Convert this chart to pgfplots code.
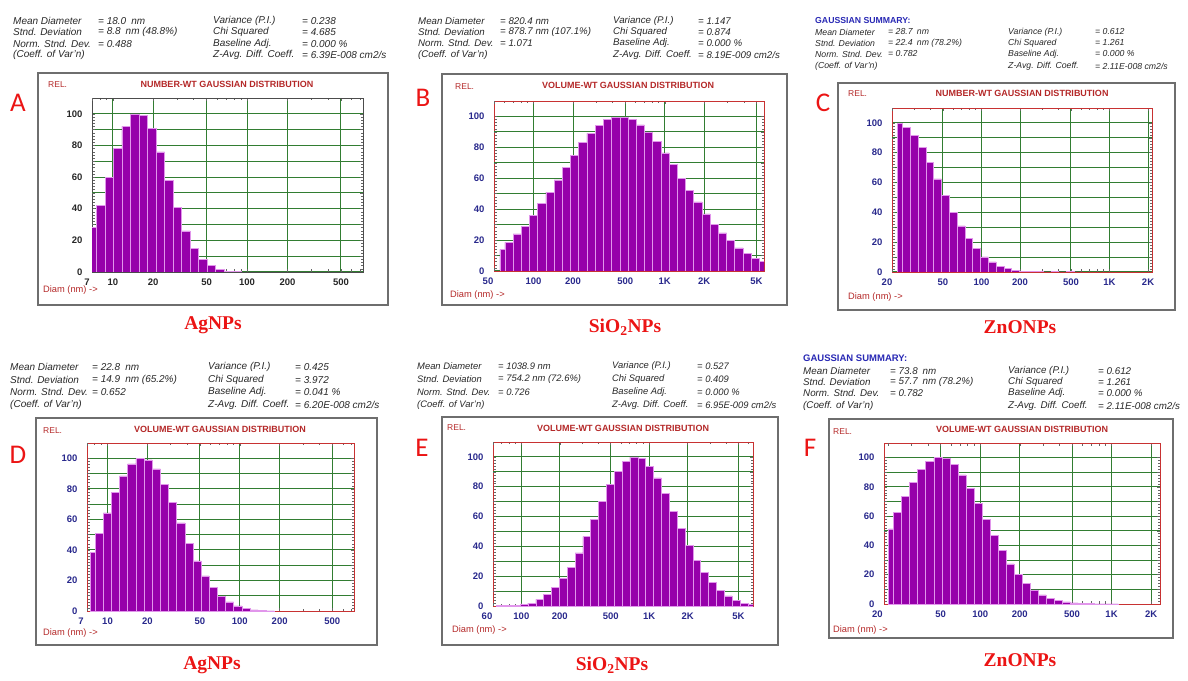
\documentclass[border=0pt]{standalone}
\usepackage{fontspec}
\setmainfont{Liberation Sans}
\newfontfamily\serifb{Liberation Serif}
\newfontfamily\carl{Carlito}
\usepackage{pgfplots}
\pgfplotsset{compat=1.18}
\definecolor{barfill}{RGB}{150,0,170}
\definecolor{baredge}{RGB}{225,150,235}
\definecolor{gridgreen}{RGB}{50,125,50}
\definecolor{framered}{RGB}{200,50,50}
\definecolor{titlered}{RGB}{180,40,40}
\definecolor{tickblue}{RGB}{40,40,140}
\definecolor{hdr}{RGB}{40,40,40}
\definecolor{boxgray}{RGB}{110,110,110}
\definecolor{labred}{RGB}{235,20,20}
\definecolor{gsblue}{RGB}{40,40,180}
\newcommand\hdrfont{\fontsize{10}{12}\selectfont\itshape}
\newcommand\hdrsize[1]{\renewcommand\hdrfont{\fontsize{#1}{12}\selectfont\itshape}}
\newcommand\ticklbl{\fontsize{9.5}{11}\selectfont\bfseries}
\tikzset{hnode/.style={anchor=west,inner sep=0pt,font=\hdrfont,text=hdr}}
\newcommand\hrow[9]{%
  \node[hnode] at ({#2},{680-#1}) {#3};
  \node[hnode] at ({#4},{680-#1}) {#5};
  \node[hnode] at ({#6},{680-#1}) {#7};
  \node[hnode] at ({#8},{680-#1}) {#9};}
\newcommand\paneltext[6]{% rel x,y ; title x,y ; diam x,y
  \node[anchor=west,inner sep=0pt,font=\fontsize{8.5}{9}\selectfont,text=titlered] at (#1,#2) {REL.};
  \node[inner sep=0pt,font=\fontsize{9}{10}\selectfont\bfseries,text=titlered] at (#3,#4) {\titletext};
  \node[anchor=west,inner sep=0pt,font=\fontsize{9.3}{10}\selectfont,text=titlered] at (#5,#6) {Diam (nm) ->};}
\newcommand\titletext{}
% x positions are log10(diameter in nm)
\pgfplotsset{
  dls/.style={
    scale only axis, ymin=0, ymax=110, anchor=south west,
    axis line style={framered, line width=0.9pt},
    ytick={0,20,40,60,80,100},
    minor y tick num=9,
    extra y ticks={10,30,50,70,90},
    extra y tick labels={},
    extra y tick style={grid=major},
    ymajorgrids, xmajorgrids,
    major grid style={gridgreen, line width=1pt},
    tick style={black!60, line width=0.5pt},
    major tick length=3pt, minor tick length=2.5pt,
    /pgf/number format/assume math mode=true,
    yticklabel style={font=\ticklbl, text=tickblue, xshift=-6pt},
    xticklabel style={font=\ticklbl, text=tickblue, yshift=-3pt},
  },
  firstlab/.style={extra x tick style={grid=none, xticklabel style={xshift=#1}}},
  dlsbar/.style={ybar interval=0.85, fill=barfill, draw=baredge, line width=0.5pt},
}
\begin{document}
\begin{tikzpicture}[x=1pt,y=1pt]
\useasboundingbox (0,0) rectangle (1188,680);
% panel frames
\draw[boxgray,line width=1.1pt] (38,375) rectangle (388,607);
\draw[boxgray,line width=1.1pt] (442,375) rectangle (787,606);
\draw[boxgray,line width=1.1pt] (838,370) rectangle (1175,597);
\draw[boxgray,line width=1.1pt] (36,35) rectangle (377,262);
\draw[boxgray,line width=1.1pt] (442,35) rectangle (778,263);
\draw[boxgray,line width=1.1pt] (829,42) rectangle (1173,261);

% ---------- A ----------
\begin{axis}[dls, at={(92pt,408pt)}, width=271pt, height=174pt, xmin=0.845, xmax=2.863,
  axis line style={black!70},
  yticklabel style={text=black!85}, xticklabel style={text=black!85},
  xtick={1,1.301,1.699,2,2.301,2.699}, xticklabels={10,20,50,100,200,500},
  extra x ticks={0.845}, extra x tick labels={7}, firstlab=-5pt,
  minor xtick={0.903,0.954,1.477,1.602,1.778,1.845,1.903,1.954,2.477,2.602,2.778,2.845}]
\addplot[dlsbar] coordinates {(0.815,28) (0.878,42) (0.942,60) (1.005,78) (1.068,92) (1.132,100) (1.195,99) (1.258,91) (1.322,76) (1.385,58) (1.448,41) (1.512,26) (1.575,15) (1.638,8) (1.701,4) (1.765,1.7) (1.828,0.6) (1.891,0.3) (1.955,0)};
\end{axis}
\renewcommand\titletext{NUMBER-WT GAUSSIAN DISTRIBUTION}
\paneltext{48}{595}{227}{596}{43}{390}

% ---------- B ----------
\begin{axis}[dls, at={(494pt,409pt)}, width=270pt, height=170pt, xmin=1.699, xmax=3.756,
  xtick={2,2.301,2.699,3,3.301,3.699}, xticklabels={100,200,500,1K,2K,5K},
  extra x ticks={1.699}, extra x tick labels={50}, firstlab=-6pt,
  minor xtick={1.778,1.845,1.903,1.954,2.477,2.602,2.778,2.845,2.903,2.954,3.477,3.602}]
\addplot[dlsbar] coordinates {(1.743,14) (1.781,18.5) (1.844,24) (1.906,29) (1.969,36) (2.031,43.7) (2.094,51) (2.157,59) (2.219,67) (2.282,75) (2.344,83) (2.407,89) (2.469,94) (2.532,98) (2.595,99.6) (2.657,99.6) (2.720,98) (2.782,94.6) (2.845,90) (2.907,84) (2.970,76.5) (3.033,69) (3.095,60) (3.158,52) (3.220,44.7) (3.283,37) (3.346,30) (3.408,24.7) (3.471,19.6) (3.533,15) (3.596,11.4) (3.658,8) (3.721,6) (3.784,0)};
\end{axis}
\renewcommand\titletext{VOLUME-WT GAUSSIAN DISTRIBUTION}
\paneltext{455}{593}{628}{595}{450}{385}

% ---------- C ----------
\begin{axis}[dls, at={(892pt,408pt)}, width=260pt, height=164pt, xmin=1.301, xmax=3.332,
  xtick={1.699,2,2.301,2.699,3,3.301}, xticklabels={50,100,200,500,1K,2K},
  extra x ticks={1.301}, extra x tick labels={20}, firstlab=-5pt,
  minor xtick={1.477,1.602,1.778,1.845,1.903,1.954,2.477,2.602,2.778,2.845,2.903,2.954}]
\addplot[dlsbar] coordinates {(1.340,100) (1.382,97) (1.443,91.4) (1.504,83.5) (1.565,73.4) (1.626,62.5) (1.687,51.2) (1.748,40.2) (1.809,31) (1.870,22.6) (1.931,15.8) (1.992,10.2) (2.053,6.8) (2.114,4) (2.175,2.3) (2.236,1.2) (2.297,0.6) (2.358,0.3) (2.419,0.2) (2.480,0.1) (2.541,0.3) (2.602,0.1) (2.663,0.2) (2.724,0.1) (2.785,0)};
\end{axis}
\renewcommand\titletext{NUMBER-WT GAUSSIAN DISTRIBUTION}
\paneltext{848}{586}{1022}{587}{848}{383}

% ---------- D ----------
\begin{axis}[dls, at={(87pt,69pt)}, width=267pt, height=168pt, xmin=0.845, xmax=2.863,
  xtick={1,1.301,1.699,2,2.301,2.699}, xticklabels={10,20,50,100,200,500},
  extra x ticks={0.845}, extra x tick labels={7}, firstlab=-6pt,
  minor xtick={0.903,0.954,1.477,1.602,1.778,1.845,1.903,1.954,2.477,2.602,2.778,2.845}]
\addplot[dlsbar] coordinates {(0.868,38.3) (0.906,51) (0.968,64.3) (1.029,77.5) (1.091,88.5) (1.152,96.3) (1.214,100) (1.276,99) (1.337,93) (1.399,83) (1.460,71) (1.522,57.7) (1.584,44.5) (1.645,32.8) (1.707,23) (1.768,15.4) (1.830,9.7) (1.892,6) (1.953,3.3) (2.015,1.5) (2.076,0.7) (2.138,0.3) (2.200,0.15) (2.261,0)};
\end{axis}
\renewcommand\titletext{VOLUME-WT GAUSSIAN DISTRIBUTION}
\paneltext{43}{249}{220}{251}{43}{47}

% ---------- E ----------
\begin{axis}[dls, at={(493pt,74pt)}, width=260pt, height=164pt, xmin=1.778, xmax=3.813,
  xtick={2,2.301,2.699,3,3.301,3.699}, xticklabels={100,200,500,1K,2K,5K},
  extra x ticks={1.778}, extra x tick labels={60}, firstlab=-6pt,
  minor xtick={1.845,1.903,1.954,2.477,2.602,2.778,2.845,2.903,2.954,3.477,3.602,3.778}]
\addplot[dlsbar] coordinates {(1.806,0.3) (1.867,0.4) (1.929,0.6) (1.990,1) (2.051,2) (2.113,4.5) (2.174,8) (2.236,12.6) (2.297,18.5) (2.359,26) (2.420,35.6) (2.482,46.5) (2.543,58) (2.605,70) (2.666,81.5) (2.727,90.5) (2.789,97) (2.850,100) (2.912,99) (2.973,93.5) (3.035,86) (3.096,75.5) (3.158,63.5) (3.219,52) (3.280,40.6) (3.342,30.6) (3.403,22.5) (3.465,15.8) (3.526,10.3) (3.588,6.8) (3.649,3.8) (3.711,2) (3.772,1.2) (3.834,0)};
\end{axis}
\renewcommand\titletext{VOLUME-WT GAUSSIAN DISTRIBUTION}
\paneltext{447}{252}{623}{252}{452}{50}

% ---------- F ----------
\begin{axis}[dls, at={(884pt,76pt)}, width=276pt, height=161pt, xmin=1.267, xmax=3.369,
  xtick={1.699,2,2.301,2.699,3,3.301}, xticklabels={50,100,200,500,1K,2K},
  extra x ticks={1.301}, extra x tick labels={20}, firstlab=-11pt,
  minor xtick={1.477,1.602,1.778,1.845,1.903,1.954,2.477,2.602,2.778,2.845,2.903,2.954}]
\addplot[dlsbar] coordinates {(1.303,51.3) (1.340,62.7) (1.401,73.7) (1.462,83.3) (1.523,92) (1.584,97.5) (1.646,100) (1.707,99.3) (1.768,95.2) (1.829,88.3) (1.890,79.2) (1.951,68.6) (2.012,57.7) (2.073,46.7) (2.134,36.4) (2.195,27.5) (2.257,20.1) (2.318,14.2) (2.379,9.6) (2.440,6.2) (2.501,3.9) (2.562,2.3) (2.623,1.4) (2.684,0.8) (2.745,0.4) (2.806,0.2) (2.867,0.15) (2.928,0.1) (2.990,0.1) (3.051,0)};
\end{axis}
\renewcommand\titletext{VOLUME-WT GAUSSIAN DISTRIBUTION}
\paneltext{833}{248}{1022}{251}{833}{50}

% ---------- headers ----------
\hdrsize{10}
\hrow{21}{13}{Mean Diameter}{98}{= 18.0\enspace nm}{213}{Variance (P.I.)}{302}{= 0.238}
\hrow{32}{13}{Stnd. Deviation}{98}{= 8.8\enspace nm (48.8\%)}{213}{Chi Squared}{302}{= 4.685}
\hrow{44}{13}{Norm. Stnd. Dev.}{98}{= 0.488}{213}{Baseline Adj.}{302}{= 0.000 \%}
\hrow{55}{13}{(Coeff. of Var'n)}{98}{}{213}{Z-Avg. Diff. Coeff.}{302}{= 6.39E-008 cm2/s}

\hdrsize{9.7}
\hrow{21}{418}{Mean Diameter}{500}{= 820.4 nm}{613}{Variance (P.I.)}{698}{= 1.147}
\hrow{32}{418}{Stnd. Deviation}{500}{= 878.7 nm (107.1\%)}{613}{Chi Squared}{698}{= 0.874}
\hrow{43}{418}{Norm. Stnd. Dev.}{500}{= 1.071}{613}{Baseline Adj.}{698}{= 0.000 \%}
\hrow{55}{418}{(Coeff. of Var'n)}{500}{}{613}{Z-Avg. Diff. Coeff.}{698}{= 8.19E-009 cm2/s}

\hdrsize{8.7}
\node[anchor=west,inner sep=0pt,font=\fontsize{8.7}{11}\selectfont\bfseries,text=gsblue] at (815,659) {GAUSSIAN SUMMARY:};
\hrow{32}{815}{Mean Diameter}{888}{= 28.7\enspace nm}{1008}{Variance (P.I.)}{1095}{= 0.612}
\hrow{43}{815}{Stnd. Deviation}{888}{= 22.4\enspace nm (78.2\%)}{1008}{Chi Squared}{1095}{= 1.261}
\hrow{54}{815}{Norm. Stnd. Dev.}{888}{= 0.782}{1008}{Baseline Adj.}{1095}{= 0.000 \%}
\hrow{66}{815}{(Coeff. of Var'n)}{888}{}{1008}{Z-Avg. Diff. Coeff.}{1095}{= 2.11E-008 cm2/s}

\hdrsize{10}
\hrow{367}{10}{Mean Diameter}{92}{= 22.8\enspace nm}{208}{Variance (P.I.)}{295}{= 0.425}
\hrow{380}{10}{Stnd. Deviation}{92}{= 14.9\enspace nm (65.2\%)}{208}{Chi Squared}{295}{= 3.972}
\hrow{392}{10}{Norm. Stnd. Dev.}{92}{= 0.652}{208}{Baseline Adj.}{295}{= 0.041 \%}
\hrow{405}{10}{(Coeff. of Var'n)}{92}{}{208}{Z-Avg. Diff. Coeff.}{295}{= 6.20E-008 cm2/s}

\hdrsize{9.4}
\hrow{366}{417}{Mean Diameter}{498}{= 1038.9 nm}{612}{Variance (P.I.)}{697}{= 0.527}
\hrow{379}{417}{Stnd. Deviation}{498}{= 754.2 nm (72.6\%)}{612}{Chi Squared}{697}{= 0.409}
\hrow{392}{417}{Norm. Stnd. Dev.}{498}{= 0.726}{612}{Baseline Adj.}{697}{= 0.000 \%}
\hrow{405}{417}{(Coeff. of Var'n)}{498}{}{612}{Z-Avg. Diff. Coeff.}{697}{= 6.95E-009 cm2/s}

\begin{scope}
\clip (800,318) rectangle (960,325);
\node[anchor=west,inner sep=0pt,font=\fontsize{9.5}{11}\selectfont\bfseries,text=gsblue] at (803,322) {GAUSSIAN SUMMARY:};
\end{scope}
\hdrsize{9.8}
\hrow{371}{803}{Mean Diameter}{890}{= 73.8\enspace nm}{1008}{Variance (P.I.)}{1098}{= 0.612}
\hrow{382}{803}{Stnd. Deviation}{890}{= 57.7\enspace nm (78.2\%)}{1008}{Chi Squared}{1098}{= 1.261}
\hrow{393}{803}{Norm. Stnd. Dev.}{890}{= 0.782}{1008}{Baseline Adj.}{1098}{= 0.000 \%}
\hrow{406}{803}{(Coeff. of Var'n)}{890}{}{1008}{Z-Avg. Diff. Coeff.}{1098}{= 2.11E-008 cm2/s}

% ---------- panel letters ----------
\foreach \l/\x/\y in {A/18/577, B/423/582, C/823/577, D/18/225, E/422/232, F/810/232}
  \node[inner sep=0pt,font=\carl\fontsize{27}{29}\selectfont,text=labred] at (\x,\y) {\l};

% ---------- sample labels ----------
\tikzset{slab/.style={inner sep=0pt,font=\serifb\fontsize{19.5}{22}\selectfont\bfseries,text=labred}}
\node[slab] at (213,355) {AgNPs};
\node[slab] at (625,353) {SiO\textsubscript{2}NPs};
\node[slab] at (1020,353) {ZnONPs};
\node[slab] at (212,15) {AgNPs};
\node[slab] at (612,15) {SiO\textsubscript{2}NPs};
\node[slab] at (1020,20) {ZnONPs};
\end{tikzpicture}
\end{document}
